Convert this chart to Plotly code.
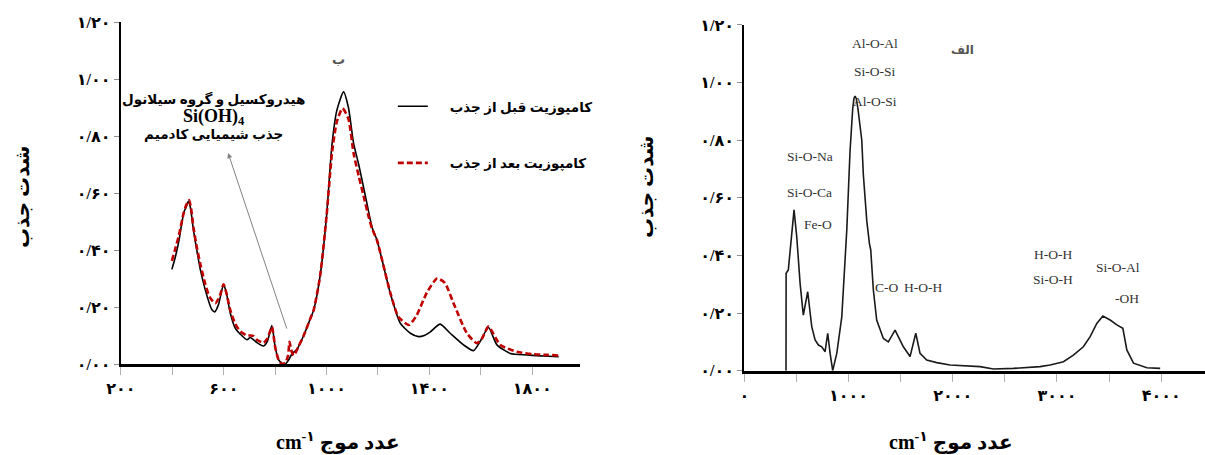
import plotly.graph_objects as go

# ---------------- data ----------------
# Left panel (ب): composite before / after adsorption
before_wn = [398, 410, 425, 444, 455, 463, 470, 482, 495, 509, 528, 545, 554, 565, 580, 599, 610, 625,
             645, 664, 690, 703, 716, 729, 755, 770, 787, 800, 813, 826, 840, 852, 865, 885, 911, 935,
             950, 975, 1000, 1021, 1040, 1066, 1085, 1105, 1125, 1144, 1160, 1177, 1196, 1216, 1248,
             1287, 1326, 1358, 1380, 1404, 1442, 1481, 1533, 1572, 1598, 1630, 1663, 1715, 1780, 1844, 1903]
before_abs = [0.332, 0.37, 0.43, 0.53, 0.555, 0.572, 0.55, 0.47, 0.40, 0.33, 0.26, 0.21, 0.19, 0.183, 0.21,
              0.28, 0.25, 0.18, 0.125, 0.105, 0.085, 0.093, 0.085, 0.075, 0.063, 0.08, 0.135, 0.06, 0.015,
              0.003, 0.0, 0.014, 0.035, 0.052, 0.10, 0.155, 0.19, 0.31, 0.52, 0.77, 0.89, 0.955, 0.90, 0.775,
              0.70, 0.62, 0.55, 0.48, 0.435, 0.365, 0.248, 0.143, 0.108, 0.096, 0.10, 0.113, 0.14, 0.108,
              0.067, 0.047, 0.08, 0.128, 0.067, 0.037, 0.032, 0.028, 0.026]

after_wn = [398, 410, 425, 444, 455, 465, 472, 482, 495, 509, 528, 545, 567, 585, 599, 610, 625, 645, 664,
            690, 703, 716, 729, 755, 770, 787, 800, 813, 826, 840, 850, 856, 862, 872, 890, 911, 935, 950,
            975, 1000, 1021, 1040, 1062, 1085, 1105, 1125, 1144, 1160, 1177, 1196, 1216, 1248, 1280, 1320,
            1350, 1390, 1430, 1460, 1494, 1546, 1585, 1605, 1630, 1676, 1741, 1800, 1860, 1903]
after_abs = [0.362, 0.40, 0.45, 0.53, 0.56, 0.575, 0.55, 0.48, 0.41, 0.35, 0.28, 0.235, 0.213, 0.24, 0.28,
             0.25, 0.19, 0.14, 0.115, 0.10, 0.10, 0.098, 0.085, 0.075, 0.09, 0.13, 0.06, 0.015, 0.0, 0.005,
             0.03, 0.078, 0.05, 0.03, 0.06, 0.10, 0.155, 0.19, 0.31, 0.52, 0.74, 0.85, 0.897, 0.86, 0.74,
             0.66, 0.59, 0.53, 0.475, 0.435, 0.365, 0.25, 0.165, 0.137, 0.17, 0.25, 0.30, 0.285, 0.213,
             0.108, 0.073, 0.09, 0.131, 0.067, 0.043, 0.035, 0.032, 0.03]

# Right panel (الف): single spectrum
spec_wn = [400, 401, 422, 455, 477, 503, 535, 566, 608, 647, 679, 711, 743, 775, 800, 823, 848, 887, 935,
           983, 1014, 1040, 1052, 1062, 1074, 1090, 1127, 1142, 1175, 1200, 1213, 1238, 1270, 1334, 1382,
           1446, 1526, 1590, 1645, 1686, 1750, 1846, 1974, 2262, 2390, 2582, 2838, 2934, 3062, 3157, 3253,
           3318, 3382, 3440, 3510, 3574, 3632, 3670, 3734, 3862, 3990]
spec_abs = [0.0, 0.338, 0.35, 0.477, 0.558, 0.465, 0.303, 0.193, 0.274, 0.153, 0.107, 0.089, 0.083, 0.066,
            0.13, 0.06, 0.0, 0.06, 0.187, 0.488, 0.76, 0.91, 0.945, 0.953, 0.945, 0.91, 0.80, 0.68, 0.52,
            0.442, 0.419, 0.28, 0.176, 0.112, 0.10, 0.141, 0.083, 0.049, 0.13, 0.06, 0.037, 0.028, 0.02,
            0.014, 0.006, 0.008, 0.014, 0.02, 0.031, 0.054, 0.083, 0.118, 0.164, 0.19, 0.176, 0.159, 0.147,
            0.072, 0.026, 0.01, 0.008]

series_names = ["کامپوزیت قبل از جذب", "کامپوزیت بعد از جذب"]

y_tick_vals = [0, 0.2, 0.4, 0.6, 0.8, 1.0, 1.2]
y_tick_text = ["۰/۰۰", "۰/۲۰", "۰/۴۰", "۰/۶۰", "۰/۸۰", "۱/۰۰", "۱/۲۰"]
left_x_tick_vals = [200, 600, 1000, 1400, 1800]
left_x_tick_text = ["۲۰۰", "۶۰۰", "۱۰۰۰", "۱۴۰۰", "۱۸۰۰"]
right_x_tick_vals = [0, 1000, 2000, 3000, 4000]
right_x_tick_text = ["۰", "۱۰۰۰", "۲۰۰۰", "۳۰۰۰", "۴۰۰۰"]

# ---------------- figure ----------------
FONT = "Times New Roman, Liberation Serif, DejaVu Sans, serif"
LABEL_FONT = "Liberation Serif, Times New Roman, serif"

fig = go.Figure()
fig.add_trace(go.Scatter(x=before_wn, y=before_abs, mode="lines", name="\u00a0" * 5 + series_names[0],
                         line=dict(color="black", width=1.6, shape="spline", smoothing=0.6),
                         legendgroup="a", xaxis="x", yaxis="y"))
fig.add_trace(go.Scatter(x=after_wn, y=after_abs, mode="lines", name="\u00a0" * 5 + series_names[1],
                         line=dict(color="#C00000", width=2.6, dash="6px,3px", shape="spline", smoothing=0.6),
                         legendgroup="b", xaxis="x", yaxis="y"))
fig.add_trace(go.Scatter(x=spec_wn, y=spec_abs, mode="lines", showlegend=False,
                         line=dict(color="#1a1a1a", width=1.6), xaxis="x2", yaxis="y2"))

tickfont = dict(family=FONT, size=16, color="black", weight="bold")
common_x = dict(showline=True, linecolor="black", linewidth=2.8, showgrid=False, zeroline=False,
                ticks="outside", ticklen=8, tickwidth=1, tickcolor="#b0b0b0", tickfont=tickfont,
                automargin=False, tickmode="array")
common_y = dict(showline=True, linecolor="black", linewidth=2.4, showgrid=False, zeroline=False,
                ticks="outside", ticklen=5, tickwidth=1, tickcolor="#909090", tickfont=tickfont,
                range=[0, 1.2], tickmode="array", tickvals=y_tick_vals, ticktext=y_tick_text,
                automargin=False)

fig.update_layout(
    width=1205, height=455, margin=dict(l=0, r=0, t=0, b=0),
    paper_bgcolor="white", plot_bgcolor="white",
    xaxis=dict(common_x, domain=[0.1004, 0.4813], range=[200, 1986],
               tickvals=left_x_tick_vals, ticktext=left_x_tick_text, anchor="y",
               minor=dict(tick0=200, dtick=200, ticks="outside", ticklen=8, tickwidth=1,
                          tickcolor="#b0b0b0", showgrid=False)),
    yaxis=dict(common_y, domain=[0.2, 0.9516], anchor="x"),
    xaxis2=dict(common_x, domain=[0.6177, 1.0], range=[0, 4420],
                tickvals=right_x_tick_vals, ticktext=right_x_tick_text, anchor="y2",
                minor=dict(tick0=0, dtick=500, ticks="outside", ticklen=8, tickwidth=1,
                           tickcolor="#b0b0b0", showgrid=False)),
    yaxis2=dict(common_y, domain=[0.1853, 0.9451], anchor="x2"),
    legend=dict(x=0.326, y=0.80, xanchor="left", yanchor="top", bgcolor="rgba(0,0,0,0)",
                font=dict(family=FONT, size=13.5, color="black", weight="bold"),
                tracegroupgap=36, itemwidth=30),
    showlegend=True,
)

ann = []
title_font = dict(family=FONT, size=20, color="black", weight="bold")
# axis titles
ann.append(dict(text="cm<sup>-۱</sup> عدد موج", xref="paper", yref="paper", x=338 / 1205, y=1 - 441 / 455,
                showarrow=False, font=title_font, xanchor="center", yanchor="middle"))
ann.append(dict(text="cm<sup>-۱</sup> عدد موج", xref="paper", yref="paper", x=951 / 1205, y=1 - 441 / 455,
                showarrow=False, font=title_font, xanchor="center", yanchor="middle"))
ann.append(dict(text="شدت جذب", xref="paper", yref="paper", x=22 / 1205, y=1 - 197 / 455, textangle=-90,
                showarrow=False, font=title_font, xanchor="center", yanchor="middle"))
ann.append(dict(text="شدت جذب", xref="paper", yref="paper", x=646 / 1205, y=1 - 187 / 455, textangle=-90,
                showarrow=False, font=title_font, xanchor="center", yanchor="middle"))
# panel labels
ann.append(dict(text="ب", xref="x", yref="y", x=1045, y=1.067, showarrow=False,
                font=dict(family=FONT, size=13, color="#555", weight="bold")))
ann.append(dict(text="الف", xref="x2", yref="y2", x=2090, y=1.113, showarrow=False,
                font=dict(family=FONT, size=12, color="#555", weight="bold")))
# left-panel note and arrow
ann.append(dict(text="هیدروکسیل و گروه سیلانول<br><span style='font-size:18px'>Si(OH)<sub>4</sub></span><br>جذب شیمیایی کادمیم",
                xref="x", yref="y", x=559, y=0.867, showarrow=False, align="center",
                font=dict(family=FONT, size=13.5, color="black", weight="bold")))
ann.append(dict(text="", xref="x", yref="y", x=617, y=0.74, axref="x", ayref="y", ax=847, ay=0.119,
                showarrow=True, arrowhead=2, arrowsize=1, arrowwidth=1, arrowcolor="#808080"))
# right-panel band labels
band_labels = [("Al-O-Al", 1253, 1.137), ("Si-O-Si", 1253, 1.037), ("Al-O-Si", 1253, 0.933),
               ("Si-O-Na", 629, 0.742), ("Si-O-Ca", 629, 0.62), ("Fe-O", 705, 0.506),
               ("C-O", 1369, 0.29), ("H-O-H", 1715, 0.29), ("H-O-H", 2964, 0.402),
               ("Si-O-H", 2964, 0.315), ("Si-O-Al", 3586, 0.357), ("-OH", 3673, 0.252)]
for t, bx, by in band_labels:
    ann.append(dict(text=t, xref="x2", yref="y2", x=bx, y=by, showarrow=False,
                    font=dict(family=LABEL_FONT, size=13.5, color="#333")))

fig.update_layout(annotations=ann)
fig.write_html("out.html", config={"displayModeBar": False},
               post_script="document.body.style.margin='0';document.body.style.overflow='hidden';")
